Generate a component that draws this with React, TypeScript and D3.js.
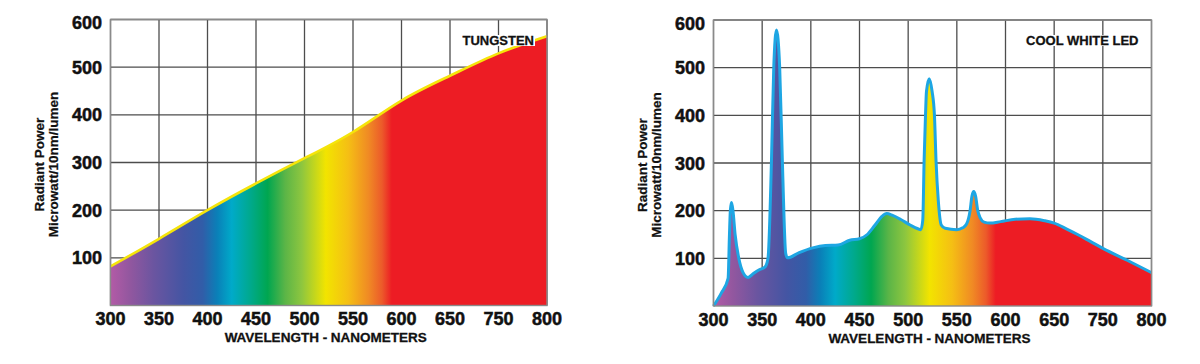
import React from "react";
import * as d3 from "d3";

// ---- data ----
const X_TICK_LABELS = [300, 350, 400, 450, 500, 550, 600, 650, 750, 800];
const X_SCALE_BREAKS = [300, 650, 750, 800];
const Y_TICKS = [100, 200, 300, 400, 500, 600];

const tungstenWl = [300, 350, 400, 450, 500, 550, 600, 650, 750, 800];
const tungstenVal = [82, 140, 200, 256, 309, 364, 430, 482, 529, 565];

const ledWl = [
  300, 308, 315, 316.4, 317.3, 318.5, 320, 322.2, 326, 330.4, 335.5, 341, 347, 353,
  356, 359.5, 361.9, 364.7, 368, 370.8, 374.2, 376, 388, 402, 415, 428, 440, 450,
  458, 466, 473, 478, 484, 492, 502, 510, 513, 515, 516.4, 517.8, 518.8, 521.6,
  524.6, 527, 528.6, 531, 534, 538, 550, 556, 560, 563.6, 565.5, 567.4, 569.3,
  571.5, 574, 578, 584, 595, 610, 625, 640, 650, 675, 700, 725, 750, 775, 800,
];
const ledVal = [
  0, 27, 58, 150, 200, 217, 200, 150, 100, 70, 60, 68, 76, 82,
  100, 300, 500, 579, 500, 300, 110, 101, 112, 122, 127, 128, 138, 141,
  150, 170, 188, 194, 190, 182, 170, 162, 160, 180, 306, 400, 450, 477,
  450, 400, 306, 220, 170, 163, 160, 164, 172, 200, 230, 240, 230,
  200, 185, 176, 174, 177, 182, 183, 179, 174, 162, 149, 135, 121, 96, 70,
];

const spectrumWl = [300, 320, 345, 375, 395, 410, 425, 445, 462, 480, 497, 522, 545, 566, 580, 590, 800];
const spectrumColors = [
  "#b35ba6", "#92579f", "#6a55a0", "#4455a3", "#315da8", "#0a80b8", "#00aac9",
  "#00a98a", "#00a650", "#5bb547", "#8dc63f", "#f2e400", "#f5bf14", "#f08a24",
  "#ec5a2a", "#ed1c24", "#ed1c24",
];

const FONT = "'Liberation Sans', Arial, Helvetica, sans-serif";

type ChartProps = {
  x0: number; x1: number; y0: number; y1: number;
  wl: number[]; val: number[];
  stroke: string; strokeWidth: number;
  label: string; id: string; curve: d3.CurveFactory;
};

function Chart({ x0, x1, y0, y1, wl, val, stroke, strokeWidth, label, id, curve }: ChartProps) {
  const w = (x1 - x0) / (X_TICK_LABELS.length - 1);
  const x = d3
    .scaleLinear()
    .domain(X_SCALE_BREAKS)
    .range([x0, x0 + 7 * w, x0 + 8 * w, x0 + 9 * w]);
  const y = d3.scaleLinear().domain([0, 600]).range([y1, y0]);
  const pts: [number, number][] = wl.map((d, i) => [d, val[i]]);
  const area = d3
    .area<[number, number]>()
    .x((d) => x(d[0]))
    .y0(y(0))
    .y1((d) => y(d[1]))
    .curve(curve);
  const line = d3
    .line<[number, number]>()
    .x((d) => x(d[0]))
    .y((d) => y(d[1]))
    .curve(curve);

  const labelSize = 13;
  const labelRight = x1 - 13;
  const labelWidth = label.length * labelSize * 0.66;
  const midX = (x0 + x1) / 2 - 3;
  const midY = (y0 + y1) / 2 + 2;

  return (
    <g>
      <defs>
        <linearGradient id={id} gradientUnits="userSpaceOnUse" x1={x0} x2={x1} y1={0} y2={0}>
          {spectrumWl.map((s, i) => (
            <stop key={i} offset={(x(s) - x0) / (x1 - x0)} stopColor={spectrumColors[i]} />
          ))}
        </linearGradient>
      </defs>
      {/* grid */}
      {X_TICK_LABELS.map((t, i) => (
        <line key={"v" + i} x1={x0 + i * w} x2={x0 + i * w} y1={y0} y2={y1} stroke="#4d4d4d" strokeWidth={1.3} />
      ))}
      {Y_TICKS.map((t) => (
        <line key={"h" + t} x1={x0} x2={x1} y1={y(t)} y2={y(t)} stroke="#4d4d4d" strokeWidth={1.3} />
      ))}
      {/* area */}
      <path d={area(pts) || ""} fill={`url(#${id})`} />
      <path d={line(pts) || ""} fill="none" stroke={stroke} strokeWidth={strokeWidth} strokeLinejoin="round" />
      {/* frame */}
      <rect x={x0} y={y0} width={x1 - x0} height={y1 - y0} fill="none" stroke="#8a8a8a" strokeWidth={1.4} />
      {/* series label */}
      <rect x={labelRight - labelWidth - 1} y={35} width={labelWidth + 2} height={11} fill="#fff" />
      <text x={labelRight} y={45} textAnchor="end" fontFamily={FONT} fontWeight="bold" fontSize={labelSize} fill="#111" stroke="#111" strokeWidth={0.3}>
        {label}
      </text>
      {/* y tick labels */}
      {Y_TICKS.map((t) => (
        <text key={"yl" + t} x={x0 - 8.5} y={Math.max(y(t), y0 + 3) + 6.5} textAnchor="end" fontFamily={FONT} fontWeight="bold" fontSize={18} fill="#111" stroke="#111" strokeWidth={0.5}>
          {t}
        </text>
      ))}
      {/* x tick labels */}
      {X_TICK_LABELS.map((t, i) => (
        <text key={"xl" + i} x={x0 + i * w} y={y1 + 19.5} textAnchor="middle" fontFamily={FONT} fontWeight="bold" fontSize={18} fill="#111" stroke="#111" strokeWidth={0.5}>
          {t}
        </text>
      ))}
      {/* x title */}
      <text x={midX} y={y1 + 36.5} textAnchor="middle" fontFamily={FONT} fontWeight="bold" fontSize={13.5} fill="#111" stroke="#111" strokeWidth={0.3}>
        WAVELENGTH - NANOMETERS
      </text>
      {/* y title */}
      <text transform={`translate(${x0 - 67},${midY}) rotate(-90)`} textAnchor="middle" fontFamily={FONT} fontWeight="bold" fontSize={13.5} fill="#111" stroke="#111" strokeWidth={0.25}>
        Radiant Power
      </text>
      <text transform={`translate(${x0 - 53},${midY}) rotate(-90)`} textAnchor="middle" fontFamily={FONT} fontWeight="bold" fontSize={13.5} fill="#111" stroke="#111" strokeWidth={0.25}>
        Microwatt/10nm/lumen
      </text>
    </g>
  );
}

export default function App() {
  return (
    <svg width={1200} height={364} style={{ position: "absolute", left: 0, top: 0, background: "#fff" }}>
      <rect x={0} y={0} width={1200} height={364} fill="#fff" />
      <Chart x0={110.5} x1={547} y0={19.5} y1={305.5} wl={tungstenWl} val={tungstenVal} stroke="#f5e40a" strokeWidth={2.6} label="TUNGSTEN" id="gradT" curve={d3.curveNatural} />
      <Chart x0={713.5} x1={1151.5} y0={20} y1={306} wl={ledWl} val={ledVal} stroke="#1ea6e3" strokeWidth={3} label="COOL WHITE LED" id="gradL" curve={d3.curveMonotoneX} />
    </svg>
  );
}
